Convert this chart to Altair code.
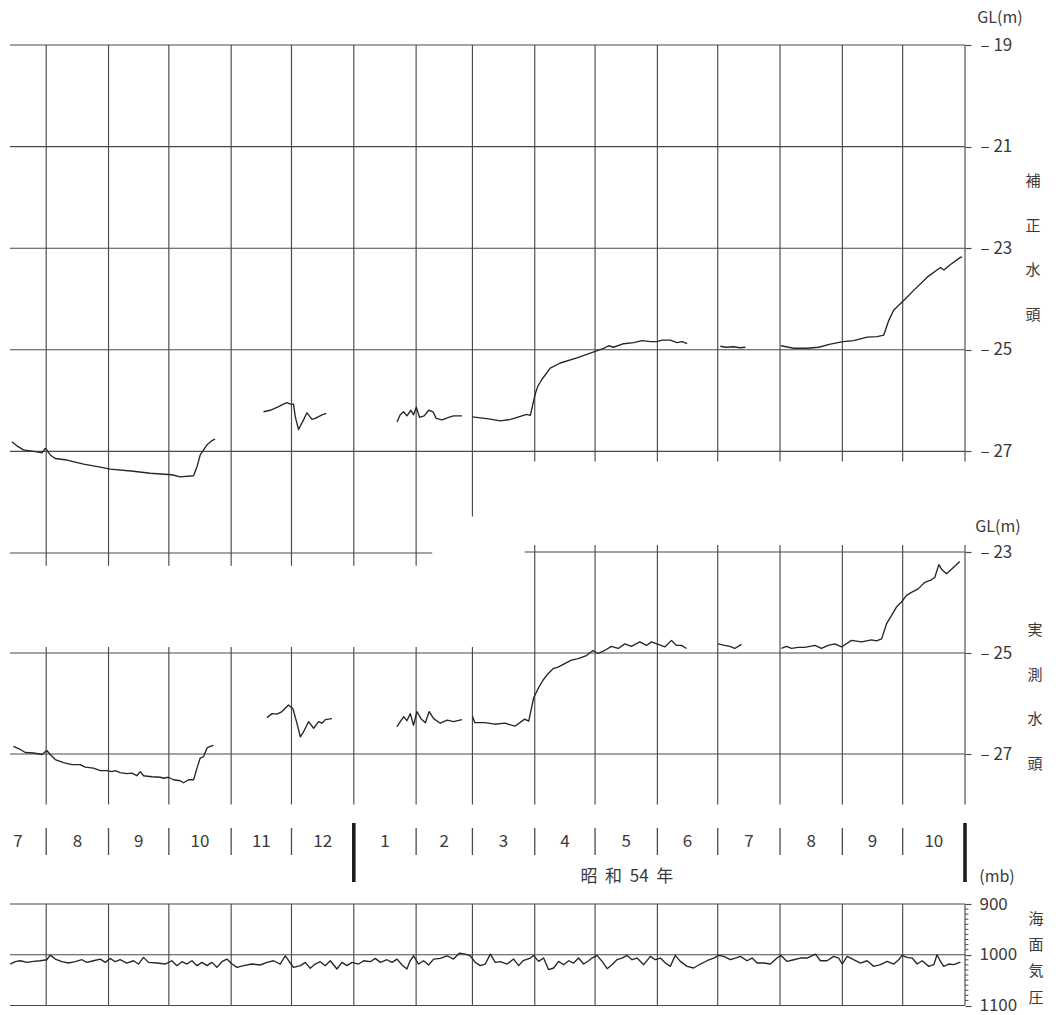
import altair as alt
import pandas as pd

# ---------------- data : x = days since 1978-08-01 ----------------
month_start_days = [0, 31, 61, 92, 122, 153, 184, 212, 243, 273, 304, 334, 365, 396, 426, 457]
month_labels = ["7", "8", "9", "10", "11", "12", "1", "2", "3", "4", "5", "6", "7", "8", "9", "10"]
month_label_days = [-14, 15.5, 46, 76.5, 107, 137.5, 168.5, 198, 227.5, 258, 288.5, 319, 349.5, 380.5, 411, 441.5]

# 補正水頭 (corrected head, GL m) - one list per recorded stretch
corr_days = [
    [-17.1, -14.6, -11.3, -8, -4.6, -2.1, -0.5, 0.3, 2, 4.5, 10.3, 18.6, 26.9, 31.8, 43.4, 51.7,
     62.5, 66.7, 73.3, 75, 76.6, 80, 82.4, 84],
    [108.1, 111.4, 113.9, 115.6, 118, 119.8, 121.4, 123, 123.9, 125.5, 128, 129.7, 132.2, 133.8, 137.2, 139.3],
    [174.5, 176.1, 177.8, 179.4, 181.4, 182.7, 184.1, 185.7, 188, 190.2, 192.4, 194, 196.9, 200.2, 202.6, 206.8],
    [212, 216, 220, 226, 231, 235, 239, 240.8, 243.3, 244.5, 246.6, 250.7, 255.7, 264, 273.1, 277.3,
     279.8, 282.2, 287.2, 292.2, 296.4, 300.5, 303.8, 306.3, 310.4, 313.8, 316.3, 318.8],
    [335.3, 338, 342, 345, 347.8],
    [365.5, 371.8, 378.5, 384.2, 390, 396.4, 401.6, 408.3, 413.3, 416.6, 419.1, 421.5, 426.5, 431.5,
     438.2, 444.8, 446.5, 449.8, 454.7, 455.6],
]
corr_vals = [
    [-26.81, -26.89, -26.97, -26.99, -27.01, -27.03, -26.94, -26.97, -27.07, -27.14, -27.17, -27.25,
     -27.31, -27.35, -27.39, -27.43, -27.46, -27.50, -27.48, -27.30, -27.07, -26.87, -26.79, -26.76],
    [-26.22, -26.19, -26.15, -26.12, -26.07, -26.04, -26.07, -26.07, -26.32, -26.57, -26.38, -26.24,
     -26.37, -26.35, -26.28, -26.25],
    [-26.42, -26.28, -26.22, -26.30, -26.19, -26.28, -26.13, -26.33, -26.30, -26.19, -26.22, -26.35,
     -26.38, -26.33, -26.30, -26.30],
    [-26.32, -26.34, -26.36, -26.40, -26.37, -26.32, -26.27, -26.29, -25.86, -25.72, -25.58, -25.36,
     -25.26, -25.16, -25.03, -24.97, -24.92, -24.95, -24.88, -24.86, -24.82, -24.84, -24.84, -24.81,
     -24.81, -24.86, -24.84, -24.88],
    [-24.93, -24.95, -24.94, -24.96, -24.95],
    [-24.92, -24.97, -24.97, -24.95, -24.89, -24.84, -24.82, -24.75, -24.74, -24.71, -24.42, -24.22,
     -24.03, -23.83, -23.57, -23.38, -23.43, -23.32, -23.18, -23.17],
]

# 実測水頭 (measured head, GL m)
meas_days = [
    [-16.3, -12.9, -10.4, -6.3, -2.1, 0.3, 2.0, 4.5, 8.6, 12.8, 16.9, 19.4, 23.5, 26.9, 30.2, 32.7,
     34.3, 36.8, 40.1, 42.6, 45.1, 46.8, 48.4, 52.6, 56.7, 58.4, 60.8, 63.3, 66.7, 68.3, 70.8, 73.3,
     75.0, 76.6, 78.3, 80.0, 81.6, 83.2],
    [109.8, 112.3, 114.8, 117.3, 120.5, 122.7, 124.7, 126.4, 128.0, 130.5, 133.0, 135.5, 137.2, 138.8, 142.1],
    [174.5, 176.1, 177.8, 179.4, 181.1, 182.7, 184.4, 186.4, 188.6, 190.5, 192.7, 196.0, 199.4, 202.6, 206.8],
    [212, 213.2, 218.1, 223.1, 228.1, 233.1, 238.0, 240.0, 242.5, 245.0, 247.1, 249.6, 252.1, 254.6,
     257.9, 261.2, 264.6, 268.7, 272.0, 274.5, 277.8, 281.1, 284.5, 287.8, 291.1, 295.2, 298.6, 301.0,
     304.4, 307.7, 311.0, 313.5, 316.0, 318.5],
    [334.2, 337.5, 340.0, 342.5, 345.8],
    [365.7, 368.2, 370.7, 374.0, 377.3, 382.3, 385.6, 388.9, 392.3, 395.6, 400.5, 405.5, 410.5, 413.0,
     415.5, 418.0, 420.4, 422.9, 425.4, 427.9, 430.4, 433.7, 437.0, 440.3, 442.0, 444.0, 445.3, 447.8,
     450.3, 454.4],
]
meas_vals = [
    [-26.85, -26.91, -26.97, -26.98, -27.01, -26.93, -27.01, -27.11, -27.17, -27.21, -27.21, -27.26,
     -27.28, -27.33, -27.33, -27.35, -27.33, -27.37, -27.39, -27.38, -27.43, -27.35, -27.43, -27.45,
     -27.46, -27.48, -27.46, -27.51, -27.53, -27.57, -27.51, -27.51, -27.28, -27.08, -27.05, -26.88,
     -26.85, -26.83],
    [-26.28, -26.20, -26.21, -26.16, -26.03, -26.10, -26.39, -26.66, -26.56, -26.36, -26.49, -26.36,
     -26.39, -26.32, -26.30],
    [-26.46, -26.36, -26.26, -26.34, -26.20, -26.43, -26.16, -26.30, -26.38, -26.16, -26.30, -26.39,
     -26.33, -26.36, -26.32],
    [-26.25, -26.38, -26.38, -26.41, -26.39, -26.45, -26.31, -26.35, -25.88, -25.68, -25.54, -25.41,
     -25.31, -25.28, -25.21, -25.14, -25.11, -25.05, -24.95, -25.01, -24.95, -24.87, -24.91, -24.82,
     -24.87, -24.78, -24.85, -24.78, -24.83, -24.88, -24.75, -24.85, -24.85, -24.91],
    [-24.82, -24.85, -24.87, -24.91, -24.83],
    [-24.91, -24.87, -24.91, -24.89, -24.89, -24.85, -24.91, -24.85, -24.82, -24.88, -24.75, -24.78,
     -24.74, -24.76, -24.72, -24.42, -24.26, -24.09, -23.99, -23.86, -23.80, -23.73, -23.60, -23.55,
     -23.50, -23.25, -23.34, -23.43, -23.34, -23.19],
]

# 海面気圧 (sea-level pressure, mb)
pres_day = [
    -17.9, -15.4, -12.9, -9.6, -6.3, -3.0, 0.3, 2.0, 4.5, 7.8, 11.1, 14.4, 17.8, 20.2, 23.5, 26.9,
    29.4, 31.8, 34.3, 36.8, 40.1, 43.4, 45.9, 48.4, 50.9, 55.1, 59.2, 62.5, 65.0, 67.5, 70.0, 72.5,
    75.0, 77.5, 80.0, 82.4, 84.9, 87.4, 89.9, 92.4, 94.9, 98.2, 102.3, 106.5, 109.8, 113.1, 116.4,
    118.9, 120.6, 123.0, 126.4, 128.9, 131.3, 133.8, 136.3, 138.8, 141.3, 144.6, 147.1, 149.6, 152.1,
    155.4, 157.9, 161.2, 163.7, 166.2, 169.5, 172.0, 174.5, 177.0, 179.4, 180.8, 182.7, 185.2, 187.7,
    190.2, 192.7, 196.0, 199.4, 202.6, 205.6, 208.5, 210.9, 213.4, 215.9, 218.4, 220.9, 223.4, 225.9,
    229.2, 232.5, 235.0, 237.2,
    240.8, 242.4, 244.9, 247.4, 249.9, 252.4, 254.9, 257.4, 259.9, 262.3, 264.8, 267.3, 269.8, 271.5,
    274.0, 276.5, 279.0, 281.4, 283.9, 286.4, 288.9, 291.4, 293.9, 297.2, 300.5, 303.0, 305.5, 308.0,
    310.4, 312.9, 315.4, 318.8, 322.0, 325.4, 328.7, 332.0, 334.5, 337.0, 340.3, 342.8, 345.3, 348.6,
    351.1, 353.6, 356.9, 360.2, 363.5, 365.5, 368.5, 371.8, 375.1, 378.5, 382.6, 385.1, 388.4, 391.7,
    394.2, 395.9, 398.4, 401.6, 405.0, 408.3, 411.6, 414.9, 418.3, 421.6, 424.0, 425.7, 428.2, 430.7,
    433.2, 435.7, 439.0, 441.5, 443.1, 444.8, 446.4, 448.9, 451.4, 454.7,
]
pres_mb = [
    1018.3, 1013.7, 1011.8, 1015.0, 1013.1, 1011.8, 1009.8, 1000.7, 1008.5, 1013.7, 1016.3, 1013.7,
    1009.8, 1015.0, 1011.8, 1008.5, 1015.0, 1007.2, 1013.7, 1009.8, 1016.3, 1011.8, 1018.3, 1005.2,
    1015.0, 1016.3, 1018.3, 1011.8, 1021.5, 1013.7, 1018.3, 1011.8, 1021.5, 1015.0, 1021.5, 1015.0,
    1024.8, 1013.7, 1008.5, 1018.3, 1024.8, 1021.5, 1018.3, 1020.2, 1015.0, 1011.8, 1018.3, 1002.0,
    1011.8, 1024.8, 1021.5, 1015.0, 1026.8, 1018.3, 1013.7, 1021.5, 1011.8, 1028.1, 1015.0, 1021.5,
    1015.0, 1018.3, 1011.8, 1013.7, 1007.2, 1015.0, 1009.8, 1015.0, 1008.5, 1020.2, 1028.1, 1013.7,
    1002.0, 1018.3, 1011.8, 1020.2, 1008.5, 1007.2, 1002.0, 1008.5, 996.7, 998.7, 1002.0, 1015.0,
    1021.5, 1018.3, 998.7, 1015.0, 1013.7, 1018.3, 1008.5, 1021.5, 1011.8,
    1006.5, 1001.3, 1013.1, 1006.5, 1029.4, 1026.1, 1013.1, 1019.6, 1011.8, 1016.3, 1006.5, 1018.3,
    1011.8, 1006.5, 1001.3, 1013.1, 1027.4, 1019.6, 1009.8, 1006.5, 1001.3, 1009.8, 1006.5, 1019.6,
    1003.3, 1009.8, 1006.5, 1016.3, 1022.9, 1001.3, 1013.1, 1022.9, 1026.1, 1018.3, 1011.8, 1006.5,
    1001.3, 1003.3, 1009.8, 1006.5, 1003.3, 1011.8, 1006.5, 1016.3, 1016.3, 1018.3, 1006.5, 1001.3,
    1013.1, 1009.8, 1006.5, 1006.5, 998.7, 1011.8, 1011.8, 1003.3, 1006.5, 1018.3, 1003.3, 1009.8,
    1016.3, 1011.8, 1022.9, 1019.6, 1013.1, 1018.3, 1009.8, 1001.3, 1005.2, 1006.5, 1018.3, 1011.8,
    1022.9, 1019.6, 1000.0, 1013.1, 1022.9, 1018.3, 1019.6, 1014.4,
]

# grid layout of the original sheet (in data units)
top_h_levels = [-19, -21, -23, -25, -27, -29]
top_h_end = [457, 457, 457, 457, 457, 192]
top_v_bottom = [-29.25] * 7 + [-28.28] + [-27.2] * 8
mid_h_levels = [-23, -25, -27]
mid_h_start = [238, -18, -18]
mid_v_top = [-24.88] * 8 + [-22.86] * 8
pres_levels = [900, 1000, 1100]
pres_minor = [910, 920, 930, 940, 950, 960, 970, 980, 990, 1010, 1020, 1030, 1040, 1050, 1060, 1070, 1080, 1090]
sep_days = [0, 31, 61, 92, 122, 184, 212, 243, 273, 304, 334, 365, 396, 426]
year_bar_days = [153, 457]

# ---------------- tables ----------------
def seg_table(days, vals):
    rows = []
    for i, (ds, vs) in enumerate(zip(days, vals)):
        for d, v in zip(ds, vs):
            rows.append({"day": d, "val": v, "seg": i})
    return pd.DataFrame(rows)

corr_df = seg_table(corr_days, corr_vals)
meas_df = seg_table(meas_days, meas_vals)
pres_df = pd.DataFrame({"day": pres_day, "mb": pres_mb})

top_h_df = pd.DataFrame({"v": top_h_levels, "d0": -18, "d1": top_h_end})
top_v_df = pd.DataFrame({"d": month_start_days, "v0": -19, "v1": top_v_bottom})
mid_h_df = pd.DataFrame({"v": mid_h_levels, "d0": mid_h_start, "d1": 457})
mid_v_df = pd.DataFrame({"d": month_start_days, "v0": mid_v_top, "v1": -28})
bot_h_df = pd.DataFrame({"mb": pres_levels, "d0": -18, "d1": 457})
bot_v_df = pd.DataFrame({"d": month_start_days, "m0": 900, "m1": 1100})
minor_df = pd.DataFrame({"mb": pres_minor, "d0": 457, "d1": 458.7})
mlab_df = pd.DataFrame({"d": month_label_days, "lab": month_labels})
sep_df = pd.DataFrame({"d": sep_days})
bar_df = pd.DataFrame({"d": year_bar_days})
era_df = pd.DataFrame({"d": [288.8], "lab": ["昭\u00a0\u00a0和\u00a0\u00a054\u00a0\u00a0年"]})
one = pd.DataFrame({"k": [0]})

# ---------------- styling ----------------
GRID = "#4a4a4a"
INK = "#262626"
TXT = "#3a3a3a"
FONT = "Noto Sans CJK JP"
GW = 1.15

xs = alt.Scale(domain=[-19, 457], nice=False, zero=False)
top_scale = alt.Scale(domain=[-29, -19], range=[553, 45], nice=False, zero=False)
mid_scale = alt.Scale(domain=[-28, -23], range=[804.5, 552], nice=False, zero=False)
bot_scale = alt.Scale(domain=[900, 1100], range=[904, 1005.5], nice=False, zero=False)


def head_axis(vals):
    return alt.Axis(orient="right", values=vals, grid=False, domain=False, ticks=True,
                    tickSize=6, tickColor=GRID, tickWidth=GW,
                    labelExpr="'\u2013 ' + abs(datum.value)", labelFont=FONT, labelFontSize=17,
                    labelColor=TXT, labelPadding=9, labelAlign="left", labelBaseline="middle",
                    labelOverlap=False, labelFlush=False, title=None)


top_axis = head_axis([-19, -21, -23, -25, -27])
mid_axis = head_axis([-23, -25, -27])
bot_axis = alt.Axis(orient="right", values=pres_levels, grid=False, domain=False, ticks=True,
                    tickSize=6, tickColor=GRID, tickWidth=GW, format="d",
                    labelFont=FONT, labelFontSize=17, labelColor=TXT, labelPadding=8,
                    labelAlign="left", labelBaseline="middle", labelOverlap=False,
                    labelFlush=False, title=None)

X = lambda f: alt.X(f, type="quantitative", scale=xs, axis=None)

# ---- top panel : 補正水頭 ----
top = alt.layer(
    alt.Chart(top_h_df).mark_rule(color=GRID, strokeWidth=GW).encode(
        x=X("d0"), x2="d1", y=alt.Y("v:Q", scale=top_scale, axis=top_axis)),
    alt.Chart(top_v_df).mark_rule(color=GRID, strokeWidth=GW).encode(
        x=X("d"), y=alt.Y("v0:Q", scale=top_scale, axis=top_axis), y2="v1"),
    alt.Chart(corr_df).mark_line(color=INK, strokeWidth=1.35, strokeJoin="round").encode(
        x=X("day"), y=alt.Y("val:Q", scale=top_scale, axis=top_axis), detail="seg:N"),
)

# ---- middle panel : 実測水頭 ----
mid = alt.layer(
    alt.Chart(mid_h_df).mark_rule(color=GRID, strokeWidth=GW).encode(
        x=X("d0"), x2="d1", y=alt.Y("v:Q", scale=mid_scale, axis=mid_axis)),
    alt.Chart(mid_v_df).mark_rule(color=GRID, strokeWidth=GW).encode(
        x=X("d"), y=alt.Y("v0:Q", scale=mid_scale, axis=mid_axis), y2="v1"),
    alt.Chart(meas_df).mark_line(color=INK, strokeWidth=1.35, strokeJoin="round").encode(
        x=X("day"), y=alt.Y("val:Q", scale=mid_scale, axis=mid_axis), detail="seg:N"),
)

# ---- bottom panel : 海面気圧 ----
bot = alt.layer(
    alt.Chart(bot_h_df).mark_rule(color=GRID, strokeWidth=GW).encode(
        x=X("d0"), x2="d1", y=alt.Y("mb:Q", scale=bot_scale, axis=bot_axis)),
    alt.Chart(bot_v_df).mark_rule(color=GRID, strokeWidth=GW).encode(
        x=X("d"), y=alt.Y("m0:Q", scale=bot_scale, axis=bot_axis), y2="m1"),
    alt.Chart(minor_df).mark_rule(color=GRID, strokeWidth=1).encode(
        x=X("d0"), x2="d1", y=alt.Y("mb:Q", scale=bot_scale, axis=bot_axis)),
    alt.Chart(pres_df).mark_line(color=INK, strokeWidth=1.35, strokeJoin="round").encode(
        x=X("day"), y=alt.Y("mb:Q", scale=bot_scale, axis=bot_axis)),
)

# ---- month row and titles ----
txt = dict(font=FONT, color=TXT)
annot = alt.layer(
    alt.Chart(mlab_df).mark_text(fontSize=17, baseline="middle", align="center", **txt).encode(
        x=X("d"), y=alt.value(842), text="lab:N"),
    alt.Chart(sep_df).mark_rule(color=GRID, strokeWidth=1.3).encode(
        x=X("d"), y=alt.value(828), y2=alt.value(855)),
    alt.Chart(bar_df).mark_rule(color="#1e1e1e", strokeWidth=3.6).encode(
        x=X("d"), y=alt.value(823), y2=alt.value(882)),
    alt.Chart(era_df).mark_text(fontSize=17, baseline="middle", align="center", **txt).encode(
        x=X("d"), y=alt.value(877), text="lab:N"),
    alt.Chart(one).mark_text(fontSize=16, baseline="middle", align="center", **txt).encode(
        x=alt.value(992), y=alt.value(18), text=alt.value("GL(m)")),
    alt.Chart(one).mark_text(fontSize=16, baseline="middle", align="center", **txt).encode(
        x=alt.value(990), y=alt.value(527), text=alt.value("GL(m)")),
    alt.Chart(one).mark_text(fontSize=16, baseline="middle", align="center", **txt).encode(
        x=alt.value(989), y=alt.value(877), text=alt.value("(mb)")),
    alt.Chart(one).mark_text(fontSize=15, baseline="middle", align="center", lineHeight=44.5, **txt).encode(
        x=alt.value(1025), y=alt.value(181), text=alt.value(["補", "正", "水", "頭"])),
    alt.Chart(one).mark_text(fontSize=15, baseline="middle", align="center", lineHeight=44.5, **txt).encode(
        x=alt.value(1027), y=alt.value(630), text=alt.value(["実", "測", "水", "頭"])),
    alt.Chart(one).mark_text(fontSize=15, baseline="middle", align="center", lineHeight=26.2, **txt).encode(
        x=alt.value(1028), y=alt.value(919), text=alt.value(["海", "面", "気", "圧"])),
)

chart = (
    alt.layer(top, mid, bot, annot)
    .resolve_scale(y="independent")
    .properties(width=957, height=1015, autosize=alt.AutoSizeParams(type="none"),
                padding={"left": 8, "top": 0, "right": 94, "bottom": 0}, background="white")
    .configure_view(stroke=None)
)

chart.save("out.html", embed_options={"renderer": "svg", "actions": False})
